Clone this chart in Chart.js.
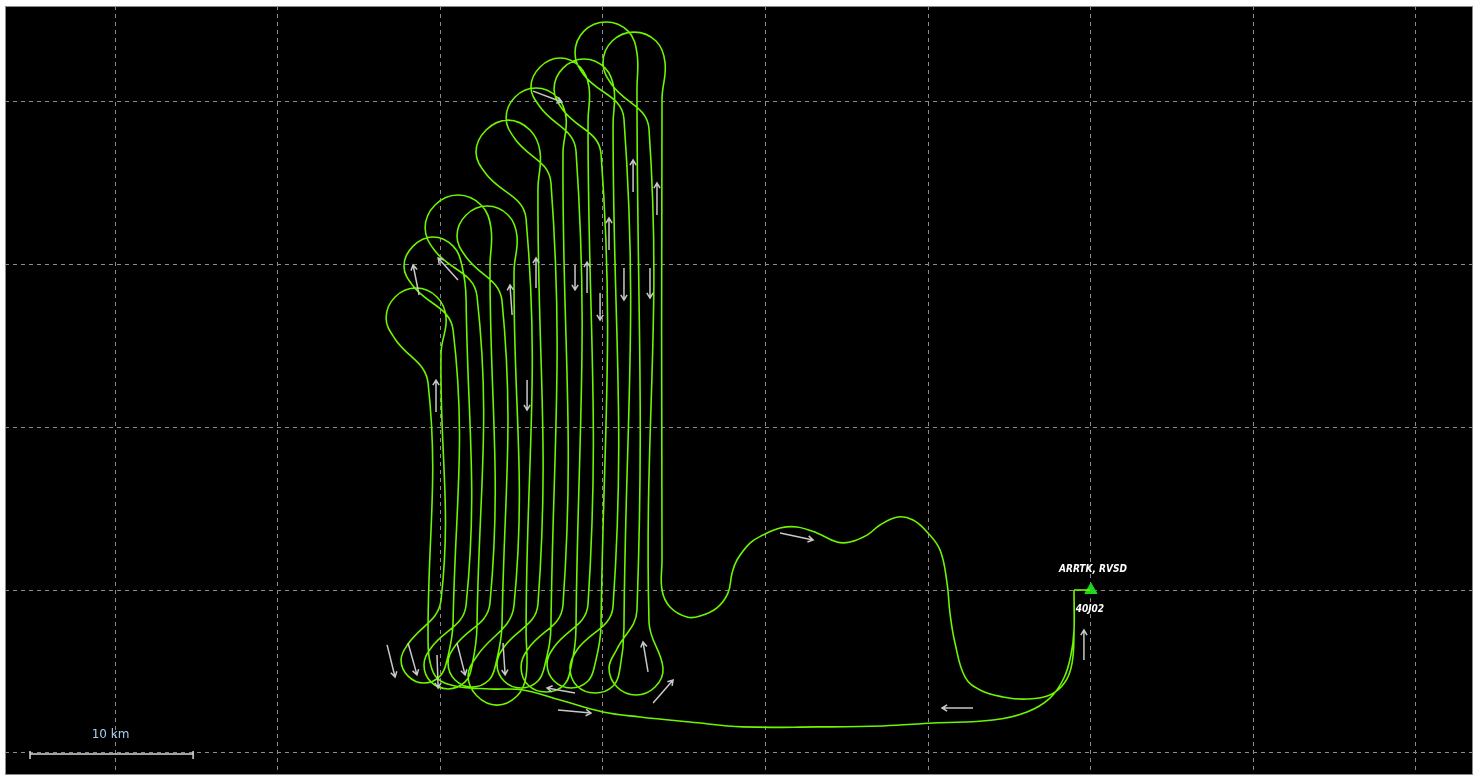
<!DOCTYPE html>
<html>
<head>
<meta charset="utf-8">
<title>Flight track</title>
<script src="https://cdn.jsdelivr.net/npm/chart.js@4.4.1/dist/chart.umd.min.js"></script>
<style>
  html, body { margin: 0; padding: 0; background: #ffffff; }
  #wrap { width: 1481px; height: 776px; }
</style>
</head>
<body>
<div id="wrap"><canvas id="track" width="1481" height="776"></canvas></div>
<script>
// Map window in km, grid every 10 km
const gridX = [0, 10, 20, 30, 40, 50, 60, 70, 80];
const gridY = [0, 10, 20, 30, 40];
const viewX = [-6.77, 83.52];
const viewY = [-1.35, 45.83];

// Outbound leg: airfield -> south edge of the survey block (x, y in km)
const outbound = [
    [58.98, 10.00], [58.98, 7.55], [58.79, 6.01], [58.36, 4.60],
    [57.50, 3.37], [56.09, 2.52], [54.00, 2.02], [50.31, 1.84], [47.23, 1.66],
    [43.17, 1.60], [38.62, 1.60], [35.36, 1.90], [32.29, 2.21], [30.01, 2.52],
    [27.37, 3.25], [25.09, 3.87], [23.06, 3.93], [20.91, 4.11], [19.80, 4.60],
    [19.37, 5.58], [19.25, 6.93]
];

// Teardrop turns at the north end of the lines (up leg -> down leg)
const topTurns = [
    [[19.25, 22.70], [17.22, 25.40], [16.67, 26.69], [17.22, 27.98], [18.51, 28.53], [19.80, 27.98], [20.36, 26.69], [20.05, 24.54]],
    [[20.79, 25.95], [18.33, 28.65], [17.77, 29.88], [18.33, 31.10], [19.56, 31.66], [20.79, 31.10], [21.34, 29.88], [21.59, 27.79]],
    [[22.26, 28.04], [19.68, 30.80], [19.07, 32.21], [19.68, 33.62], [21.09, 34.23], [22.51, 33.62], [23.12, 32.21], [23.06, 29.88]],
    [[23.80, 27.73], [21.59, 30.43], [21.03, 31.72], [21.59, 33.01], [22.88, 33.56], [24.17, 33.01], [24.72, 31.72], [24.54, 29.57]],
    [[25.28, 32.76], [22.82, 35.52], [22.20, 36.87], [22.82, 38.22], [24.17, 38.83], [25.52, 38.22], [26.14, 36.87], [26.01, 34.60]],
    [[26.81, 34.97], [24.60, 37.67], [24.05, 38.96], [24.60, 40.25], [25.89, 40.80], [27.18, 40.25], [27.74, 38.96], [27.55, 36.81]],
    [[28.35, 36.93], [26.14, 39.63], [25.58, 40.86], [26.14, 42.09], [27.37, 42.64], [28.60, 42.09], [29.15, 40.86], [29.09, 38.77]],
    [[29.89, 36.75], [27.55, 39.45], [27.00, 40.74], [27.55, 42.02], [28.84, 42.58], [30.14, 42.02], [30.69, 40.74], [30.63, 38.59]],
    [[31.30, 38.90], [28.84, 41.60], [28.29, 42.95], [28.84, 44.29], [30.20, 44.85], [31.55, 44.29], [32.10, 42.95], [32.10, 40.74]],
    [[32.84, 38.28], [30.57, 40.98], [30.01, 42.33], [30.57, 43.68], [31.92, 44.23], [33.27, 43.68], [33.83, 42.33], [33.64, 40.12]]
];

// Teardrop turns at the south end (down leg -> next up leg)
const bottomTurns = [
    [[20.05, 9.39], [18.02, 6.69], [17.59, 5.71], [18.02, 4.72], [19.00, 4.29], [19.99, 4.72], [20.42, 5.71], [20.79, 8.04]],
    [[21.59, 9.08], [19.43, 6.44], [19.00, 5.40], [19.43, 4.36], [20.48, 3.93], [21.53, 4.36], [21.96, 5.40], [22.26, 7.79]],
    [[23.06, 9.20], [20.91, 6.56], [20.48, 5.52], [20.91, 4.48], [21.96, 4.05], [23.00, 4.48], [23.43, 5.52], [23.80, 7.91]],
    [[24.54, 9.08], [22.26, 5.95], [21.71, 4.72], [22.26, 3.50], [23.49, 2.94], [24.72, 3.50], [25.28, 4.72], [25.28, 7.42]],
    [[26.01, 9.14], [23.92, 6.50], [23.49, 5.46], [23.92, 4.42], [24.97, 3.99], [26.01, 4.42], [26.45, 5.46], [26.81, 7.85]],
    [[27.55, 9.08], [25.40, 6.38], [24.97, 5.28], [25.40, 4.17], [26.51, 3.74], [27.61, 4.17], [28.04, 5.28], [28.35, 7.73]],
    [[29.09, 9.14], [27.00, 6.50], [26.57, 5.46], [27.00, 4.42], [28.04, 3.99], [29.09, 4.42], [29.52, 5.46], [29.89, 7.85]],
    [[30.63, 9.02], [28.41, 6.32], [27.98, 5.21], [28.41, 4.11], [29.52, 3.68], [30.63, 4.11], [31.06, 5.21], [31.30, 7.67]],
    [[32.10, 8.77], [30.87, 6.38], [30.38, 5.21], [30.87, 4.05], [32.04, 3.56], [33.21, 4.05], [33.70, 5.21], [32.84, 8.04]]
];

// Return leg: last line -> airfield
const inbound = [
    [33.64, 11.84], [33.64, 10.00], [34.13, 8.96], [35.18, 8.34], [35.98, 8.40],
    [37.02, 8.90], [37.70, 9.82], [37.95, 11.04], [38.25, 11.84], [39.05, 12.88],
    [39.85, 13.37], [40.90, 13.80], [41.94, 13.87], [43.17, 13.50], [44.40, 12.94],
    [45.20, 12.94], [46.25, 13.37], [47.05, 13.99], [48.15, 14.48], [49.08, 14.29],
    [49.94, 13.56], [50.74, 12.45], [51.17, 10.43], [51.35, 8.59], [51.66, 6.75],
    [52.28, 4.66], [53.20, 3.87], [54.61, 3.44], [56.09, 3.31], [57.50, 3.56],
    [58.43, 4.36], [58.86, 5.52], [58.98, 7.36], [58.98, 10.00]
];

// Short straight taxi link to the airfield marker
const taxiLink = [[58.98, 10.00], [59.96, 10.00]];

// Direction arrows: tail x, tail y, tip x, tip y (km)
const arrows = [
    [19.74, 20.92, 19.74, 22.88], [18.70, 28.10, 18.33, 29.94], [21.09, 29.02, 19.87, 30.37],
    [24.42, 26.87, 24.29, 28.71], [25.89, 28.53, 25.89, 30.37], [25.34, 22.88, 25.34, 21.04],
    [28.29, 29.94, 28.29, 28.41], [29.03, 28.22, 29.03, 30.12], [30.38, 30.86, 30.38, 32.82],
    [29.83, 28.22, 29.83, 26.56], [31.86, 34.42, 31.86, 36.38], [33.33, 33.01, 33.33, 34.97],
    [31.30, 29.75, 31.30, 27.79], [32.90, 29.75, 32.90, 27.91], [25.71, 40.61, 27.49, 39.94],
    [16.73, 6.63, 17.22, 4.66], [18.02, 6.75, 18.57, 4.79], [19.80, 6.01, 19.87, 3.99],
    [21.03, 6.75, 21.53, 4.79], [23.86, 6.75, 23.99, 4.79], [32.78, 4.97, 32.47, 6.81],
    [28.29, 3.68, 26.57, 3.99], [27.24, 2.64, 29.27, 2.45], [33.09, 3.07, 34.32, 4.48],
    [52.77, 2.76, 50.86, 2.76], [59.59, 5.71, 59.59, 7.55], [40.90, 13.50, 42.93, 13.07]
];

const airfield = [60.02, 10.00];
const airfieldName = 'ARRTK, RVSD';
const airfieldCode = '40J02';

// Scale bar: start, end (km) at y = scaleBarY
const scaleBar = [-5.23, 4.80];
const scaleBarY = -0.06;
const scaleLabel = '10 km';

let track = outbound.slice();
for (let i = 0; i < topTurns.length; i++) {
    track = track.concat(topTurns[i]);
    if (bottomTurns[i]) track = track.concat(bottomTurns[i]);
}
track = track.concat(inbound);

const toXY = pts => pts.map(p => ({ x: p[0], y: p[1] }));

const mapFrame = {
    id: 'mapFrame',
    beforeDraw(chart) {
        const { ctx, chartArea: a } = chart;
        ctx.save();
        ctx.fillStyle = '#000000';
        ctx.fillRect(a.left, a.top, a.right - a.left, a.bottom - a.top);
        ctx.restore();
    },
    afterDatasetsDraw(chart) {
        const { ctx, chartArea: a, scales } = chart;
        const sx = scales.x, sy = scales.y;
        ctx.save();

        // arrows
        ctx.strokeStyle = '#c8c8c8';
        ctx.lineWidth = 1.5;
        arrows.forEach(r => {
            const x1 = sx.getPixelForValue(r[0]), y1 = sy.getPixelForValue(r[1]);
            const x2 = sx.getPixelForValue(r[2]), y2 = sy.getPixelForValue(r[3]);
            const ang = Math.atan2(y2 - y1, x2 - x1);
            ctx.beginPath();
            ctx.moveTo(x1, y1);
            ctx.lineTo(x2, y2);
            ctx.moveTo(x2 - 6 * Math.cos(ang - 0.55), y2 - 6 * Math.sin(ang - 0.55));
            ctx.lineTo(x2, y2);
            ctx.lineTo(x2 - 6 * Math.cos(ang + 0.55), y2 - 6 * Math.sin(ang + 0.55));
            ctx.stroke();
        });

        // airfield labels
        const ax = sx.getPixelForValue(airfield[0]);
        const ay = sy.getPixelForValue(airfield[1]);
        ctx.fillStyle = '#ffffff';
        ctx.font = 'italic bold 10px "DejaVu Sans Condensed", "DejaVu Sans", sans-serif';
        ctx.textAlign = 'center';
        ctx.textBaseline = 'middle';
        ctx.fillText(airfieldName, ax + 2, ay - 21);
        ctx.fillText(airfieldCode, ax - 1, ay + 19);

        // scale bar
        const b0 = sx.getPixelForValue(scaleBar[0]);
        const b1 = sx.getPixelForValue(scaleBar[1]);
        const by = sy.getPixelForValue(scaleBarY);
        ctx.strokeStyle = '#d8d8d8';
        ctx.lineWidth = 1.5;
        ctx.beginPath();
        ctx.moveTo(b0, by); ctx.lineTo(b1, by);
        ctx.moveTo(b0, by - 3); ctx.lineTo(b0, by + 5);
        ctx.moveTo(b1, by - 3); ctx.lineTo(b1, by + 5);
        ctx.stroke();
        ctx.fillStyle = '#a9cdf0';
        ctx.font = '12px "DejaVu Sans", sans-serif';
        ctx.fillText(scaleLabel, (b0 + b1) / 2 - 1, by - 19);

        // frame
        ctx.strokeStyle = '#8c8c8c';
        ctx.lineWidth = 1;
        ctx.strokeRect(a.left + 0.5, a.top + 0.5, a.right - a.left - 1, a.bottom - a.top - 1);
        ctx.restore();
    }
};

new Chart(document.getElementById('track').getContext('2d'), {
    type: 'scatter',
    data: {
        datasets: [{
            label: 'Track',
            data: toXY(track),
            showLine: true,
            borderColor: '#6ef500',
            borderWidth: 1.6,
            tension: 0.4,
            pointRadius: 0,
            fill: false
        }, {
            label: 'Taxi',
            data: toXY(taxiLink),
            showLine: true,
            borderColor: '#6ef500',
            borderWidth: 1.6,
            tension: 0,
            pointRadius: 0
        }, {
            label: 'Airfield',
            data: toXY([airfield]),
            pointStyle: 'triangle',
            pointRadius: 7,
            backgroundColor: '#1fd51f',
            borderColor: '#1fd51f',
            borderWidth: 1
        }]
    },
    options: {
        responsive: false,
        animation: false,
        layout: { autoPadding: false, padding: { left: 5, top: 6, right: 8, bottom: 1 } },
        plugins: {
            legend: { display: false },
            tooltip: { enabled: false }
        },
        scales: {
            x: {
                type: 'linear',
                min: viewX[0],
                max: viewX[1],
                afterBuildTicks: s => { s.ticks = gridX.map(v => ({ value: v })); },
                afterFit: s => { s.height = 0; },
                ticks: { display: false },
                grid: { color: '#8a8a8a', lineWidth: 1, drawTicks: false },
                border: { display: false, dash: [4, 4] }
            },
            y: {
                type: 'linear',
                min: viewY[0],
                max: viewY[1],
                afterBuildTicks: s => { s.ticks = gridY.map(v => ({ value: v })); },
                afterFit: s => { s.width = 0; },
                ticks: { display: false },
                grid: { color: '#8a8a8a', lineWidth: 1, drawTicks: false },
                border: { display: false, dash: [4, 4] }
            }
        }
    },
    plugins: [mapFrame]
});
</script>
</body>
</html>
